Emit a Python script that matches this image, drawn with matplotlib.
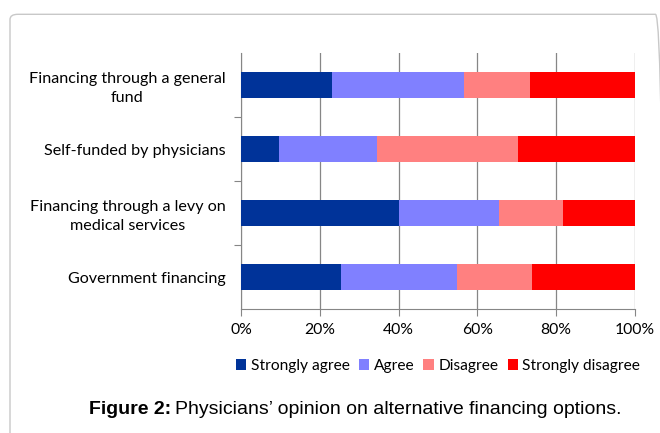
import numpy as np
import matplotlib.pyplot as plt
from matplotlib.patches import FancyBboxPatch
from matplotlib.ticker import FuncFormatter

categories = ['Financing through a general\nfund',
              'Self-funded by physicians',
              'Financing through a levy on\nmedical services',
              'Government financing']
series = ['Strongly agree', 'Agree', 'Disagree', 'Strongly disagree']
strongly_agree = [23.1, 9.7, 40.1, 25.3]
agree = [33.5, 24.7, 25.4, 29.6]
disagree = [16.7, 35.9, 16.1, 18.9]
strongly_disagree = [26.7, 29.7, 18.4, 26.2]
colors = ['#003399', '#8080ff', '#ff8080', '#ff0000']

fig = plt.figure(figsize=[6.6, 4.33], dpi=100)

# rounded frame around the figure
frame = FancyBboxPatch((10/660, -0.2), 0.99, (433-13)/433 + 0.2 - 0.003,
                       boxstyle='round,pad=0,rounding_size=0.012',
                       transform=fig.transFigure, fill=False,
                       edgecolor='#c8c8c8', linewidth=1.0)
fig.patches.append(frame)

ax = fig.add_axes([241/660, 124/433, 394/660, 256/433])

y = np.arange(len(categories))
left = np.zeros(len(categories))
for name, vals, c in zip(series, [strongly_agree, agree, disagree, strongly_disagree], colors):
    ax.barh(y, vals, left=left, height=0.4, color=c, label=name, zorder=3)
    left += np.array(vals)

ax.set_ylim(len(categories) - 0.5, -0.5)
ax.set_xlim(0, 100)
ax.set_xticks(np.arange(0, 101, 20))
ax.xaxis.set_major_formatter(FuncFormatter(lambda v, p: '%d%%' % v))
ax.set_yticks(y)
ax.set_yticklabels(categories, fontsize=11.6, family='Lato', ha='right',
                   multialignment='center', linespacing=1.4)
ax.tick_params(axis='y', length=0, pad=11)
ax.set_yticks(np.arange(0.5, len(categories) - 1, 1), minor=True)
ax.tick_params(axis='y', which='minor', length=5, color='#868686', width=0.8)
ax.tick_params(axis='x', length=5, color='#868686', width=0.8,
               labelsize=11.3, pad=5)
for lab in ax.get_xticklabels():
    lab.set_family('Lato')

ax.grid(axis='x', color='#868686', linewidth=0.9, zorder=0)
for s in ['top', 'right']:
    ax.spines[s].set_visible(False)
ax.spines['left'].set_color('#868686')
ax.spines['bottom'].set_color('#868686')

ax.legend(loc='upper center', bbox_to_anchor=(0.5, -0.14), ncol=4,
          frameon=False, handlelength=0.65, handleheight=0.65,
          handletextpad=0.3, columnspacing=0.6,
          prop={'family': 'Lato', 'size': 11.2})

# caption: bold label followed by regular text
fig.canvas.draw()
r = fig.canvas.get_renderer()
t1 = fig.text(89/660, 23/433, 'Figure 2:', ha='left', va='center',
              fontsize=14, family='Liberation Sans', weight='bold')
w = t1.get_window_extent(renderer=r).width
fig.text(89/660 + (w + 4)/660, 23/433,
         'Physicians\u2019 opinion on alternative financing options.',
         ha='left', va='center', fontsize=14, family='Liberation Sans')

plt.savefig('out.png', format='png', dpi=100)
